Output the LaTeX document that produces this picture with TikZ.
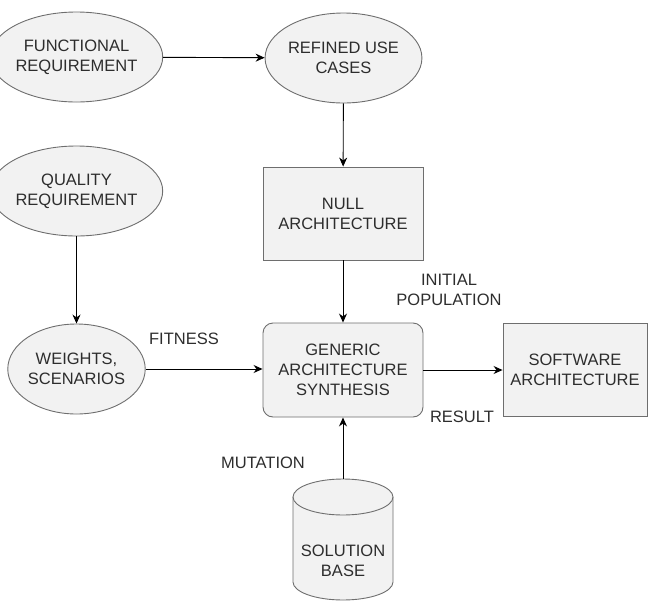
\documentclass[tikz,border=0pt]{standalone}
\usepackage{fontspec}
\setmainfont{Liberation Sans}
\usetikzlibrary{shapes.geometric,arrows.meta}

\definecolor{boxfill}{RGB}{242,242,242}
\definecolor{boxline}{RGB}{110,110,110}
\definecolor{txtgray}{RGB}{45,45,45}

\tikzset{every picture/.style={line width=0.9pt}}
\tikzset{
	reqell/.style={ellipse, draw=boxline, fill=boxfill, text=txtgray, minimum width=133, minimum height=90, inner sep=0pt, align=center},
	archbox/.style={rectangle, draw=boxline, fill=boxfill, text=txtgray, minimum width=160, minimum height=93, inner sep=0pt, align=center},
	flowarrow/.style={draw=black, -{Stealth[length=9pt,width=8pt]}},
	lbl/.style={text=txtgray, align=center, inner sep=0pt}
}

\begin{document}
\begin{tikzpicture}[x=1pt,y=1pt,yscale=-1,xscale=1,font=\fontsize{16.5}{20}\selectfont]
	\useasboundingbox (0,0) rectangle (657,603);

	%Shape: Ellipse [id:funcreq]
	\node [reqell] (funcreq) at (76.5,57) {FUNCTIONAL\\REQUIREMENT};
	%Shape: Ellipse [id:usecases]
	\node [reqell] (usecases) at (343.5,58) {REFINED USE\\CASES};
	%Shape: Ellipse [id:qualreq]
	\node [reqell] (qualreq) at (76.5,191) {QUALITY\\REQUIREMENT};
	%Shape: Ellipse [id:weights]
	\node [reqell] (weights) at (76.5,369) {WEIGHTS,\\SCENARIOS};

	%Shape: Rectangle [id:nullarch]
	\node [archbox] (nullarch) at (343,213.5) {NULL\\ARCHITECTURE};
	%Shape: Rounded Rectangle [id:genarch]
	\node [archbox, rounded corners=10pt, minimum height=94] (genarch) at (343,370) {GENERIC\\ARCHITECTURE\\SYNTHESIS};
	%Shape: Rectangle [id:softarch]
	\node [archbox, minimum width=144] (softarch) at (575,369.5) {SOFTWARE\\ARCHITECTURE};

	%Shape: Can [id:solbase]
	\draw [draw=boxline, fill=boxfill] (293,497) -- (293,582) arc [start angle=180, end angle=0, x radius=50, y radius=18] -- (393,497) arc [start angle=360, end angle=180, x radius=50, y radius=18] -- cycle;
	\draw [draw=boxline] (293,497) arc [start angle=180, end angle=0, x radius=50, y radius=18];
	\coordinate (solbasetop) at (343,479);
	\node [lbl] (solbase) at (343,561) {SOLUTION\\BASE};

	%Straight Lines
	\draw [flowarrow] (funcreq) -- (usecases);
	\draw [flowarrow] (usecases) -- (nullarch);
	\draw [flowarrow] (nullarch) -- (genarch);
	\draw [flowarrow] (qualreq) -- (weights);
	\draw [flowarrow] (weights.east) -- (weights.east -| genarch.west);
	\draw [flowarrow] (genarch.east) -- (genarch.east -| softarch.west);
	\draw [flowarrow] (solbasetop) -- (genarch.south);

	% Text Node
	\node [lbl] (fitness) at (184,339) {FITNESS};
	% Text Node
	\node [lbl] (initpop) at (449,290) {INITIAL\\POPULATION};
	% Text Node
	\node [lbl] (result) at (462,417) {RESULT};
	% Text Node
	\node [lbl] (mutation) at (263,463) {MUTATION};

\end{tikzpicture}
\end{document}
